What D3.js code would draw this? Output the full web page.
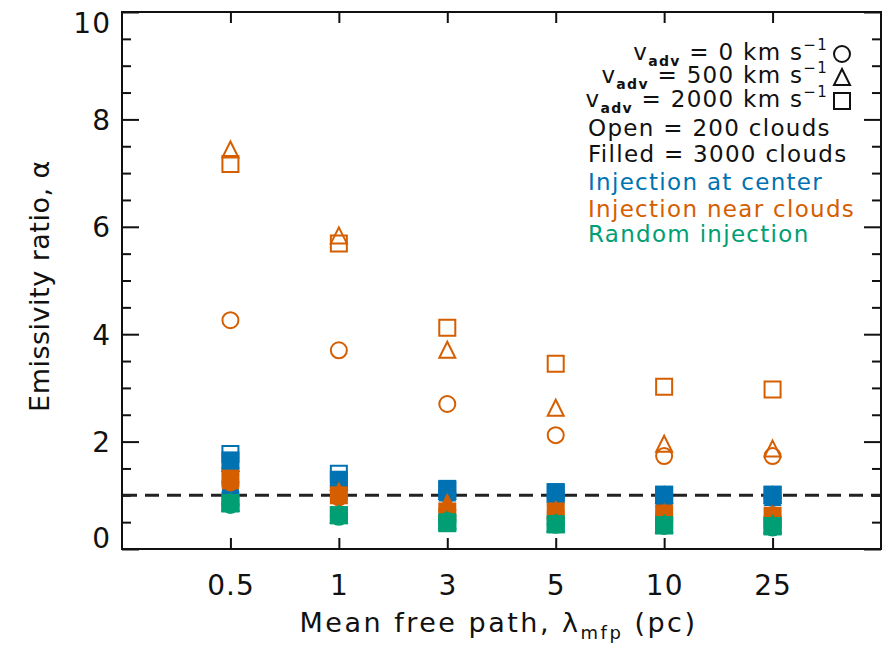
<!DOCTYPE html>
<meta charset="utf-8">
<style>
body { margin: 0; background: #fff; }
svg { display: block; }
text { font-family: "DejaVu Sans", sans-serif; fill: #111; }
.tick text { font-size: 28px; fill: #111; letter-spacing: 1px; }
.axis line { stroke: #111; stroke-width: 2; }
.axis path { display: none; }
.legend text { font-size: 23px; letter-spacing: 1.3px; }
</style>
<svg width="890" height="645"></svg>
<script src="https://d3js.org/d3.v7.min.js"></script>
<script>

// mean free path categories (pc)
var distances = ["0.5", "1", "3", "5", "10", "25"];
var yTicks = [0, 2, 4, 6, 8, 10];

// rows: v_adv = 0 (circle), 500 (triangle), 2000 (square) km/s
// open = 200 clouds, filled = 3000 clouds
var centerFilled = [
  [1.05, 1.18, 1.02, 0.97, 0.95, 0.95],
  [1.55, 1.22, 1.05, 1.00, 0.97, 0.97],
  [1.65, 1.29, 1.12, 1.06, 1.01, 1.01]
];
var centerOpen = [
  [1.50, 1.18, 1.04, 1.00, 0.97, 0.97],
  [1.60, 1.25, 1.08, 1.03, 1.00, 1.00],
  [1.77, 1.40, 1.10, 1.05, 1.01, 1.01]
];
var nearFilled = [
  [1.24, 0.96, 0.72, 0.68, 0.62, 0.60],
  [1.28, 1.09, 0.88, 0.75, 0.70, 0.66],
  [1.31, 1.00, 0.70, 0.70, 0.66, 0.62]
];
var nearOpen = [
  [4.26, 3.70, 2.70, 2.12, 1.73, 1.73],
  [7.44, 5.84, 3.71, 2.63, 1.96, 1.87],
  [7.17, 5.69, 4.12, 3.45, 3.02, 2.97]
];
var randomFilled = [
  [0.82, 0.60, 0.50, 0.45, 0.43, 0.40],
  [0.88, 0.66, 0.56, 0.51, 0.49, 0.48],
  [0.85, 0.63, 0.48, 0.46, 0.44, 0.42]
];
var randomOpen = [
  [0.84, 0.62, 0.52, 0.47, 0.44, 0.43],
  [0.86, 0.64, 0.53, 0.48, 0.46, 0.45],
  [0.85, 0.63, 0.50, 0.46, 0.44, 0.43]
];

var blue = "#0072b2", orange = "#d55e00", green = "#009e73";

var svg = d3.select("svg"),
    pL = 122, pR = 881, pT = 12, pB = 549;

var x = d3.scalePoint().domain(distances).range([pL, pR]).padding(1),
    y = d3.scaleLinear().domain([0, 10]).range([pB, pT]);

var triangle = {
  draw: function(ctx, size) {
    var h = Math.sqrt(size) / 2;
    ctx.moveTo(0, -h); ctx.lineTo(h, h); ctx.lineTo(-h, h); ctx.closePath();
  }
};
var shapes = [d3.symbolCircle, triangle, d3.symbolSquare];
function sym(i, s) {
  // size so all shapes span about s pixels
  var size = i === 0 ? Math.PI * s * s / 4 : s * s;
  return d3.symbol().type(shapes[i]).size(size)();
}

// frame
svg.append("rect")
  .attr("x", pL).attr("y", pT)
  .attr("width", pR - pL).attr("height", pB - pT)
  .attr("fill", "none").attr("stroke", "#111").attr("stroke-width", 2);

// y axes (major + minor, ticks inside)
var minor = d3.range(0, 10.01, 0.5).filter(function(d) { return d % 2 !== 0; });

var yl = svg.append("g").attr("class", "axis")
  .attr("transform", "translate(" + pL + ",0)")
  .call(d3.axisLeft(y).tickValues(yTicks).tickSize(-17).tickPadding(11).tickFormat(d3.format("d")));
yl.selectAll(".tick text")
  .attr("dy", function(d) { return d === 0 ? "-0.05em" : d === 10 ? "0.72em" : "0.35em"; });
svg.append("g").attr("class", "axis")
  .attr("transform", "translate(" + pL + ",0)")
  .call(d3.axisLeft(y).tickValues(minor).tickSize(-9).tickFormat(""));
svg.append("g").attr("class", "axis")
  .attr("transform", "translate(" + pR + ",0)")
  .call(d3.axisRight(y).tickValues(yTicks).tickSize(-17).tickFormat(""));
svg.append("g").attr("class", "axis")
  .attr("transform", "translate(" + pR + ",0)")
  .call(d3.axisRight(y).tickValues(minor).tickSize(-9).tickFormat(""));

// x axes
var xb = svg.append("g").attr("class", "axis")
  .attr("transform", "translate(0," + pB + ")")
  .call(d3.axisBottom(x).tickSize(-11).tickPadding(14));
xb.selectAll(".tick text").attr("y", 46).attr("dy", 0);
svg.append("g").attr("class", "axis")
  .attr("transform", "translate(0," + pT + ")")
  .call(d3.axisTop(x).tickSize(-11).tickFormat(""));

// reference line alpha = 1
svg.append("line")
  .attr("x1", pL + 1).attr("x2", pR - 1)
  .attr("y1", y(1)).attr("y2", y(1))
  .attr("stroke", "#222").attr("stroke-width", 3)
  .attr("stroke-dasharray", "14,8");

// markers
var groups = [
  {rows: centerFilled, color: blue, filled: true},
  {rows: centerOpen, color: blue, filled: false},
  {rows: nearFilled, color: orange, filled: true},
  {rows: nearOpen, color: orange, filled: false},
  {rows: randomFilled, color: green, filled: true},
  {rows: randomOpen, color: green, filled: false}
];
groups.forEach(function(g) {
  g.rows.forEach(function(vals, i) {
    svg.append("g").selectAll("path")
      .data(vals)
      .enter().append("path")
      .attr("transform", function(d, j) { return "translate(" + x(distances[j]) + "," + y(d) + ")"; })
      .attr("d", sym(i, g.filled ? 18 : 16))
      .attr("fill", g.filled ? g.color : "none")
      .attr("stroke", g.filled ? "none" : g.color)
      .attr("stroke-width", 2);
  });
});

// axis titles
var xt = svg.append("text")
  .attr("x", (pL + pR) / 2 - 3).attr("y", 632)
  .attr("text-anchor", "middle")
  .style("font-size", "27px").style("letter-spacing", "2.5px");
xt.append("tspan").text("Mean free path, λ");
xt.append("tspan").attr("dy", 7).style("font-size", "18px").text("mfp");
xt.append("tspan").attr("dy", -7).text(" (pc)");

svg.append("text")
  .attr("transform", "translate(49," + 286 + ") rotate(-90)")
  .attr("text-anchor", "middle")
  .style("font-size", "27px").style("letter-spacing", "0.5px")
  .text("Emissivity ratio, α");

// legend
var legend = svg.append("g").attr("class", "legend");
var vLines = ["0", "500", "2000"], vBase = [60, 83, 107], vSym = [54, 77, 101];
vLines.forEach(function(v, i) {
  var t = legend.append("text").attr("x", 828).attr("y", vBase[i]).attr("text-anchor", "end");
  t.append("tspan").text("v");
  t.append("tspan").attr("dy", 6).style("font-size", "14px").style("font-weight", "bold").text("adv");
  t.append("tspan").attr("dy", -6).text(" = " + v + " km s");
  t.append("tspan").attr("dy", -10).style("font-size", "15px").text("−1");
  legend.append("path")
    .attr("transform", "translate(842," + vSym[i] + ")")
    .attr("d", sym(i, 16))
    .attr("fill", "none").attr("stroke", "#111").attr("stroke-width", 2);
});
var lines = [
  {text: "Open = 200 clouds", color: "#111", y: 136},
  {text: "Filled = 3000 clouds", color: "#111", y: 162},
  {text: "Injection at center", color: blue, y: 190},
  {text: "Injection near clouds", color: orange, y: 217},
  {text: "Random injection", color: green, y: 242}
];
legend.selectAll("text.line")
  .data(lines)
  .enter().append("text")
  .attr("class", "line")
  .attr("x", 588).attr("y", function(d) { return d.y; })
  .style("fill", function(d) { return d.color; })
  .text(function(d) { return d.text; });

</script>
